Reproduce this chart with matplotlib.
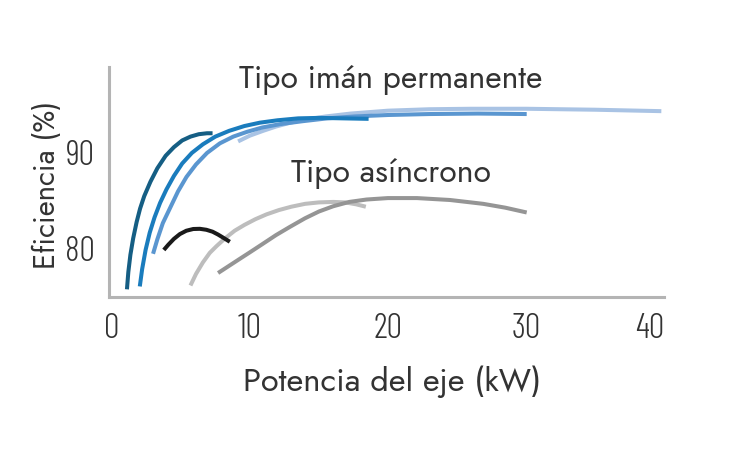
import matplotlib
matplotlib.use("Agg")
import matplotlib.pyplot as plt

# curvas de eficiencia (kW, %)
pm1_x = [1.1, 1.2, 1.35, 1.55, 1.8, 2.05, 2.35, 2.8, 3.3, 3.9, 4.5, 5.1, 5.7, 6.3, 6.9, 7.3]
pm1_y = [75.6, 77.4, 79.2, 80.9, 82.6, 84.0, 85.3, 86.8, 88.2, 89.5, 90.4, 91.1, 91.5, 91.75, 91.85, 91.85]
pm2_x = [2.03, 2.2, 2.45, 2.75, 3.1, 3.5, 3.96, 4.5, 5.1, 5.8, 6.6, 7.5, 8.5, 9.6, 10.72, 12.0, 13.5, 15.0, 16.8, 18.6]
pm2_y = [75.9, 77.7, 79.7, 81.5, 83.1, 84.6, 86.0, 87.4, 88.7, 89.8, 90.7, 91.5, 92.1, 92.6, 92.95, 93.2, 93.4, 93.45, 93.4, 93.35]
pm3_x = [2.99, 3.3, 3.7, 4.2, 4.8, 5.41, 6.1, 6.9, 7.83, 8.8, 9.8, 10.9, 12.2, 13.8, 15.6, 17.6, 20, 23, 26.5, 30.05]
pm3_y = [79.3, 80.8, 82.5, 84.0, 85.8, 87.3, 88.6, 89.8, 90.8, 91.5, 92.0, 92.45, 92.8, 93.1, 93.4, 93.6, 93.75, 93.85, 93.9, 93.85]
pm4_x = [9.15, 10.0, 10.96, 11.9, 12.8, 13.7, 14.6, 15.5, 16.4, 17.3, 18.2, 20, 23, 26, 30, 35, 39.8]
pm4_y = [91.0, 91.6, 92.1, 92.55, 92.9, 93.2, 93.4, 93.6, 93.75, 93.9, 94.0, 94.2, 94.35, 94.4, 94.4, 94.3, 94.15]

as1_x = [3.77, 4.1, 4.5, 4.93, 5.4, 5.9, 6.38, 6.85, 7.3, 7.7, 8.1, 8.55]
as1_y = [79.7, 80.25, 80.85, 81.35, 81.7, 81.88, 81.9, 81.8, 81.6, 81.3, 80.95, 80.55]
as2_x = [5.7, 6.1, 6.6, 7.1, 7.59, 8.2, 8.9, 9.6, 10.4, 11.2, 12.1, 13.0, 14.0, 15.0, 16.04, 16.9, 17.7, 18.4]
as2_y = [76.0, 77.2, 78.4, 79.4, 80.1, 80.9, 81.7, 82.3, 82.9, 83.4, 83.85, 84.2, 84.5, 84.65, 84.7, 84.65, 84.45, 84.2]
as3_x = [7.7, 8.5, 9.3, 10.0, 10.9, 11.9, 12.9, 14.0, 15.0, 16.04, 17.2, 18.45, 20, 22.1, 24.5, 26.9, 28.5, 30.05]
as3_y = [77.3, 78.05, 78.8, 79.45, 80.3, 81.25, 82.1, 83.0, 83.7, 84.25, 84.7, 84.95, 85.1, 85.1, 84.9, 84.5, 84.1, 83.6]

x_ticks = [0, 10, 20, 30, 40]
y_ticks = [80, 90]

txt = "#333333"
plt.rcParams['font.family'] = ['Jost', 'Lato', 'DejaVu Sans']
narrow = ['Barlow Condensed', 'Roboto Condensed', 'DejaVu Sans']

fig = plt.figure(figsize=(7.33, 4.52), dpi=100)
ax = fig.add_axes([0.1487, 0.3407, 0.906 - 0.1487, 0.8496 - 0.3407])

curvas = [
    (as2_x, as2_y, "#bdbdbd"),
    (as3_x, as3_y, "#959595"),
    (as1_x, as1_y, "#1a1a1a"),
    (pm4_x, pm4_y, "#a9c3e4"),
    (pm3_x, pm3_y, "#5a96d0"),
    (pm2_x, pm2_y, "#1a7cbd"),
    (pm1_x, pm1_y, "#155e84"),
]
for xs, ys, c in curvas:
    ax.plot(xs, ys, color=c, lw=2.9, solid_capstyle='butt', solid_joinstyle='round')

ax.set_xlim(-0.2, 40)
ax.set_ylim(74.8, 98.75)
ax.set_xticks(x_ticks)
ax.set_yticks(y_ticks)
ax.set_xticklabels([str(v) for v in x_ticks], family=narrow, fontsize=25, color=txt, fontweight=300)
ax.set_yticklabels([str(v) for v in y_ticks], family=narrow, fontsize=25, color=txt, fontweight=300)
ax.get_xticklabels()[-1].set_horizontalalignment('right')
ax.tick_params(length=0)
ax.tick_params(axis='x', pad=11)
ax.tick_params(axis='y', pad=10)

for s in ['top', 'right']:
    ax.spines[s].set_visible(False)
for s in ['left', 'bottom']:
    ax.spines[s].set_color("#b4b4b4")
    ax.spines[s].set_linewidth(2.2)

ax.text(20.2, 97.6, "Tipo imán permanente", ha='center', va='center', fontsize=23, color=txt)
ax.text(20.2, 87.8, "Tipo asíncrono", ha='center', va='center', fontsize=23, color=txt)

fig.text(392 / 733, 1 - 382 / 452, "Potencia del eje (kW)", ha='center', va='center', fontsize=23.5, color=txt)
fig.text(47 / 733, 1 - 185 / 452, "Eficiencia (%)", ha='center', va='center', rotation=90, fontsize=21, color=txt)

fig.savefig("out.png", dpi=100)
